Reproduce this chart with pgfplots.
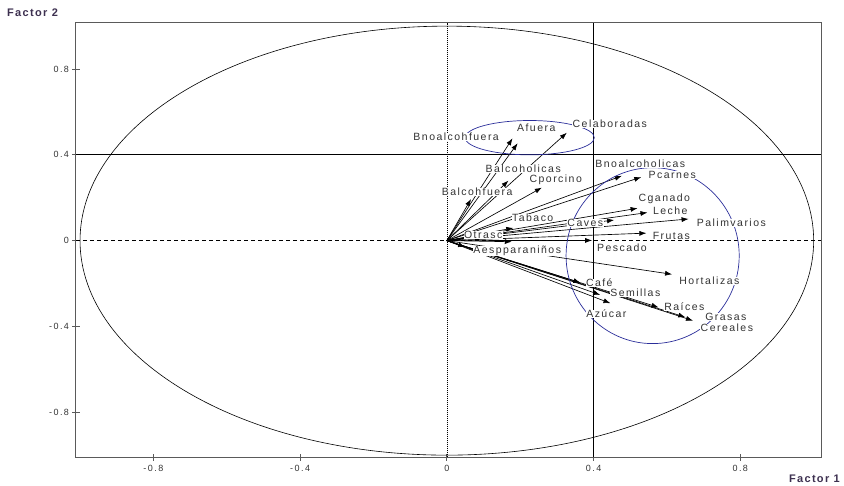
\documentclass[border=0pt]{standalone}
\usepackage{pgfplots}
\pgfplotsset{compat=1.18}
\usepackage{pgfplotstable}
\usepackage{fontspec}
\setmainfont{Liberation Sans}
\newfontfamily\lbl[LetterSpace=14]{Liberation Sans}
\newfontfamily\tck[LetterSpace=16]{Liberation Sans}
\newfontfamily\fac[LetterSpace=12]{Liberation Sans}
\usetikzlibrary{arrows.meta}
\definecolor{frame}{HTML}{5A5A5A}
\definecolor{txt}{HTML}{333333}
\definecolor{factxt}{HTML}{3D3050}
\definecolor{elblue}{HTML}{2B2E9A}

% arrow tips (factor 1, factor 2)
\pgfplotstableread{
x y u v
0 0 0.179 0.477
0 0 0.193 0.454
0 0 0.327 0.503
0 0 0.168 0.280
0 0 0.259 0.247
0 0 0.066 0.194
0 0 0.181 0.059
0 0 0.456 0.096
0 0 0.177 -0.005
0 0 0.050 -0.030
0 0 0.477 0.302
0 0 0.530 0.296
0 0 0.520 0.151
0 0 0.547 0.131
0 0 0.659 0.101
0 0 0.544 0.035
0 0 0.396 0.001
0 0 0.614 -0.157
0 0 0.364 -0.196
0 0 0.418 -0.253
0 0 0.446 -0.292
0 0 0.577 -0.311
0 0 0.650 -0.357
0 0 0.671 -0.373
}\tips

% label positions
\pgfplotstableread{
x y t
0.0254 0.4835 Bnoalcohfuera
0.2437 0.5254 Afuera
0.4442 0.5443 Celaboradas
0.2082 0.3343 Balcoholicas
0.2969 0.2830 Cporcino
0.0827 0.2270 Balcohfuera
0.2341 0.1058 Tabaco
0.3774 0.0825 Caves
0.0990 0.0266 Otrasc
0.1918 -0.0480 Aespparaniños
0.5274 0.3576 Bnoalcoholicas
0.6147 0.3062 Pcarnes
0.5929 0.1944 Cganado
0.6093 0.1385 Leche
0.7757 0.0825 Palimvarios
0.6120 0.0219 Frutas
0.4775 -0.0340 Pescado
0.7157 -0.1879 Hortalizas
0.4156 -0.1972 Café
0.5138 -0.2438 Semillas
0.6475 -0.3091 Raíces
0.4347 -0.3417 Azúcar
0.7607 -0.3557 Grasas
0.7634 -0.4070 Cereales
}\labels

\begin{document}
\begin{tikzpicture}
\useasboundingbox (-76pt,-28.7pt) rectangle (768pt,457.3pt);
\begin{axis}[
  at={(0,0)}, anchor=south west,
  scale only axis, width=745pt, height=434.6pt,
  xmin=-1.011, xmax=1.02, ymin=-1.01, ymax=1.016,
  axis line style={frame, line width=1pt},
  xtick={-0.8,-0.4,0,0.4,0.8}, ytick={-0.8,-0.4,0,0.4,0.8},
  xticklabels={-0.8,-0.4,0,0.4,0.8}, yticklabels={-0.8,-0.4,0,0.4,0.8},
  tick pos=left, tick align=center, major tick length=7pt,
  tick style={frame, line width=0.8pt},
  ticklabel style={font=\tck\fontsize{9}{11}\selectfont, text=txt},
  xticklabel style={yshift=-1pt},
  clip=false,
]
% correlation circle and reference lines
\draw[black, line width=0.6pt] (axis cs:0,0) ellipse [x radius=1, y radius=1];
\draw[black, line width=0.6pt, dash pattern=on 4pt off 3pt] (axis cs:-1.011,0) -- (axis cs:1.02,0);
\draw[black, line width=0.7pt, dash pattern=on 1pt off 1pt] (axis cs:0,-1.01) -- (axis cs:0,1.016);
\draw[black, line width=0.9pt] (axis cs:-1.011,0.4) -- (axis cs:1.02,0.4);
\draw[black, line width=0.9pt] (axis cs:0.4,-1.01) -- (axis cs:0.4,1.016);

\addplot[black, line width=0.65pt, mark=none,
  quiver={u=\thisrow{u}, v=\thisrow{v}},
  -{Latex[length=7pt,width=5pt]}] table[x=x, y=y] {\tips};

\addplot[only marks, mark=none, nodes near coords, point meta=explicit symbolic,
  nodes near coords style={anchor=center, font=\lbl\fontsize{10.5}{12}\selectfont,
    text=txt, fill=white, inner sep=0.5pt}]
  table[x=x, y=y, meta=t] {\labels};

% groupings
\draw[elblue, line width=0.7pt] (axis cs:0.226,0.48) ellipse [x radius=0.176, y radius=0.08];
\draw[elblue, line width=0.7pt] (axis cs:0.561,-0.07) ellipse [x radius=0.236, y radius=0.41];
\end{axis}
\node[anchor=west, font=\fac\bfseries\fontsize{11}{13}\selectfont, text=factxt, inner sep=0pt] at (-69pt,444.3pt) {Factor 2};
\node[anchor=east, font=\fac\bfseries\fontsize{11}{13}\selectfont, text=factxt, inner sep=0pt] at (764pt,-21.7pt) {Factor 1};
\end{tikzpicture}
\end{document}
